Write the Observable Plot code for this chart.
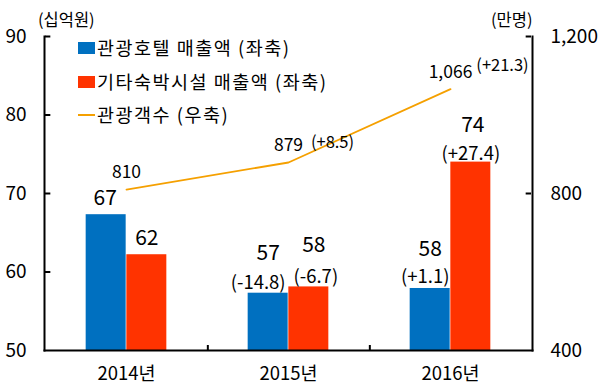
<!DOCTYPE html>
<html><head><meta charset="utf-8">
<script src="https://cdn.jsdelivr.net/npm/d3@7"></script>
<script src="https://cdn.jsdelivr.net/npm/@observablehq/plot@0.6"></script>
<style>
body{margin:0;background:#fff;font-family:"Noto Sans CJK KR","Noto Sans",sans-serif;}
#wrap{position:relative;width:600px;height:392px;}
.t{position:absolute;color:#000;white-space:nowrap;line-height:1;}
.sw{position:absolute;}
</style></head>
<body><div id="wrap"></div>
<script>
const years = ["2014년","2015년","2016년"];
const hotelSales = [67.3, 57.3, 57.9];
const otherSales = [62.2, 58.1, 74.0];
const hotelLabels = ["67","57","58"];
const otherLabels = ["62","58","74"];
const hotelChange = ["", "(-14.8)", "(+1.1)"];
const otherChange = ["", "(-6.7)", "(+27.4)"];
const visitors = [810, 879, 1066];
const visitorLabels = ["810","879","1,066"];
const visitorChange = ["","(+8.5)","(+21.3)"];
const leftTicks = [50,60,70,80,90];
const rightTicks = [400,800,1200];
const seriesNames = ["관광호텔 매출액 (좌축)","기타숙박시설 매출액 (좌축)","관광객수 (우축)"];
const colors = ["#0070C0","#FF3300","#F5A000"];

const W=600,H=392,mL=44,mR=68,mT=36,mB=42;
const bw=(W-mL-mR)/years.length;
const toLeft = v => 50 + (v-400)/800*40;
const fromLeft = v => 400 + (v-50)/40*800;
const font='"Noto Sans CJK KR","Noto Sans",sans-serif';

const rows = years.map((y,i)=>({i,year:y,hotel:hotelSales[i],other:otherSales[i],hl:hotelLabels[i],ol:otherLabels[i],hc:hotelChange[i],oc:otherChange[i],v:toLeft(visitors[i]),vl:visitorLabels[i],vc:visitorChange[i]}));
const R = i => rows.filter(d=>d.i===i);

const chart = Plot.plot({
  width:W,height:H,marginLeft:mL,marginRight:mR,marginTop:mT,marginBottom:mB,
  style:{fontFamily:font,fontSize:"18px",background:"transparent",color:"#000"},
  x:{type:"band",domain:years,padding:0,label:null},
  y:{domain:[50,90],label:null},
  marks:[
    Plot.barY(rows,{x:"year",y1:50,y2:"hotel",fill:colors[0],insetLeft:bw/4,insetRight:bw/2}),
    Plot.barY(rows,{x:"year",y1:50,y2:"other",fill:colors[1],insetLeft:bw/2,insetRight:bw/4}),
    Plot.line(rows,{x:"year",y:"v",stroke:colors[2],strokeWidth:1.8}),
    // bar values
    Plot.text(R(0),{x:"year",y:"hotel",text:"hl",dx:-bw/8-1,dy:-16,fontSize:21}),
    Plot.text(R(0),{x:"year",y:"other",text:"ol",dx:bw/8,dy:-16,fontSize:21}),
    Plot.text(R(1),{x:"year",y:"hotel",text:"hl",dx:-bw/8,dy:-40,fontSize:21}),
    Plot.text(R(1),{x:"year",y:"other",text:"ol",dx:bw/8+5,dy:-42,fontSize:21}),
    Plot.text(R(2),{x:"year",y:"hotel",text:"hl",dx:-bw/8,dy:-39,fontSize:21}),
    Plot.text(R(2),{x:"year",y:"other",text:"ol",dx:bw/8+2,dy:-37,fontSize:21}),
    // change labels
    Plot.text(R(1),{x:"year",y:"hotel",text:"hc",dx:-bw/8-10,dy:-10,fontSize:18.5}),
    Plot.text(R(1),{x:"year",y:"other",text:"oc",dx:bw/8+7,dy:-10,fontSize:18.5}),
    Plot.text(R(2),{x:"year",y:"hotel",text:"hc",dx:-bw/8-5,dy:-11,fontSize:18.5}),
    Plot.text(R(2),{x:"year",y:"other",text:"oc",dx:bw/8,dy:-8,fontSize:18.5}),
    // line labels
    Plot.text(rows,{x:"year",y:"v",text:"vl",dy:-17,fontSize:17.5}),
    Plot.text(R(1),{x:"year",y:"v",text:"vc",dx:44,dy:-20,fontSize:16.5}),
    Plot.text(R(2),{x:"year",y:"v",text:"vc",dx:52,dy:-23.5,fontSize:16.5}),
    Plot.frame({anchor:"left",strokeWidth:2}),
    Plot.frame({anchor:"right",strokeWidth:2}),
    Plot.frame({anchor:"bottom",strokeWidth:2}),
    Plot.tickY(leftTicks.slice(1),{y:d=>d,x:()=>years[0],insetRight:bw-6,strokeWidth:2}),
    Plot.tickY(rightTicks.slice(1).map(toLeft),{y:d=>d,x:()=>years[years.length-1],insetLeft:bw-6,strokeWidth:2}),
    Plot.axisY(leftTicks,{anchor:"left",tickSize:0,tickPadding:18,fontSize:19,label:null}),
    Plot.axisY(rightTicks.map(toLeft),{anchor:"right",tickSize:0,tickPadding:18,fontSize:19,label:null,
      tickFormat:v=>d3.format(",")(Math.round(fromLeft(v)))}),
    Plot.axisX({tickSize:0,tickPadding:16,fontSize:18.5,label:null}),
    Plot.ruleX(years.slice(0,-1),{x:d=>d,dx:bw/2,y1:50,y2:50+5/7.85,strokeWidth:2})
  ]
});
const wrap=document.getElementById("wrap");
chart.style.position="absolute";chart.style.left="0";chart.style.top="0";
wrap.appendChild(chart);

function addText(txt,x,y,size,ls){const d=document.createElement("div");d.className="t";d.textContent=txt;d.style.left=x+"px";d.style.top=y+"px";d.style.fontSize=size+"px";if(ls)d.style.letterSpacing=ls+"px";wrap.appendChild(d);return d;}
addText("(십억원)",38,11,16.5);
addText("(만명)",491,11,16.5);
const legY=[48,82,115];
seriesNames.forEach((n,i)=>{
  const s=document.createElement("div");s.className="sw";
  if(i<2){s.style.left="78px";s.style.top=(legY[i]-6)+"px";s.style.width="17px";s.style.height="12px";}
  else{s.style.left="78px";s.style.top=(legY[i]-1)+"px";s.style.width="17px";s.style.height="2px";}
  s.style.background=colors[i];wrap.appendChild(s);
  addText(n,97,legY[i]-10,18.5,1.5);
});
</script></body></html>
